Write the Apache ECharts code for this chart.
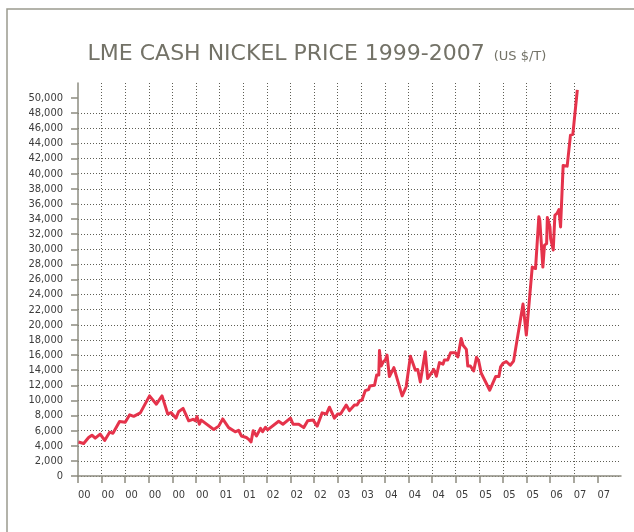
<!DOCTYPE html>
<html>
<head>
    <meta charset="utf-8">
    <title>LME cash nickel price</title>
    <style>
        body { margin: 0; background: #fff; }
        #chart { width: 634px; height: 532px; }
    </style>
</head>
<body>
<div id="chart"></div>
<script src="https://cdn.jsdelivr.net/npm/echarts@6/dist/echarts.min.js"></script>
<script>
    // x = position in label periods (one period per tick)
    var xLabels = ['00', '00', '00', '00', '00', '00', '01', '01', '02', '02', '02', '03',
        '03', '04', '04', '04', '05', '05', '05', '05', '06', '07', '07'];
    var yTicks = [0, 2000, 4000, 6000, 8000, 10000, 12000, 14000, 16000, 18000, 20000, 22000, 24000,
        26000, 28000, 30000, 32000, 34000, 36000, 38000, 40000, 42000, 44000, 46000, 48000, 50000];

    var period = [0.02, 0.24, 0.45, 0.59, 0.73, 0.94, 1.13, 1.34, 1.48, 1.76, 2.00, 2.19, 2.36, 2.64, 2.71,
        3.03, 3.32, 3.56, 3.80, 3.94, 4.15, 4.26, 4.45, 4.69, 4.87, 4.97, 5.04, 5.14, 5.22, 5.75, 5.96,
        6.13, 6.38, 6.66, 6.80, 6.92, 7.13, 7.23, 7.33, 7.42, 7.56, 7.73, 7.82, 7.94, 8.03, 8.50, 8.68,
        9.00, 9.08, 9.11, 9.35, 9.56, 9.73, 9.96, 10.13, 10.34, 10.52, 10.65, 10.86, 11.00, 11.12, 11.36,
        11.50, 11.71, 11.82, 11.93, 12.03, 12.17, 12.31, 12.36, 12.56, 12.65, 12.74, 12.77, 12.84, 12.93,
        13.02, 13.09, 13.19, 13.38, 13.73, 13.90, 14.08, 14.29, 14.39, 14.50, 14.71, 14.81, 15.07, 15.18,
        15.31, 15.46, 15.52, 15.66, 15.78, 15.99, 16.09, 16.23, 16.31, 16.37, 16.45, 16.51, 16.62, 16.76,
        16.88, 16.97, 17.08, 17.44, 17.69, 17.76, 17.83, 17.90, 18.00, 18.14, 18.31, 18.45, 18.85, 18.99,
        19.24, 19.38, 19.52, 19.56, 19.69, 19.76, 19.85, 19.88, 19.99, 20.02, 20.09, 20.13, 20.20, 20.30,
        20.37, 20.44, 20.55, 20.72, 20.86, 20.96, 21.15];
    var price = [4500, 4300, 5100, 5400, 5000, 5550, 4700, 5800, 5650, 7200, 7100, 8100, 7900, 8350, 8150,
        10600, 9500, 10600, 8200, 8400, 7650, 8500, 8950, 7300, 7500, 7300, 7850, 6850, 7400, 6150, 6600,
        7550, 6400, 5850, 6050, 5300, 5100, 4850, 4500, 6000, 5300, 6300, 5850, 6450, 6100, 7250, 6850,
        7650, 7500, 6850, 6850, 6400, 7300, 7400, 6600, 8350, 8200, 9100, 7650, 8200, 8200, 9400,
        8650, 9400, 9400, 9950, 10050, 11300, 11450, 11900, 12000, 13350, 13350, 16600, 14550, 15100,
        15350, 16000, 13150, 14350, 10600, 11800, 15850, 14000, 14100, 12450, 16450, 12900, 14100, 13200,
        15000, 14800, 15350, 15350, 16300, 16300, 15750, 18200, 17300, 17100, 16750, 14550, 14550, 13900,
        15700, 15250, 13600, 11350, 13150, 13350, 13150, 14450, 14900, 15150, 14650, 15200, 22750, 18650,
        27650, 27450, 34300, 33850, 27650, 30550, 30750, 34200, 32950, 31400, 31300, 29900, 34500, 34800,
        35250, 32950, 41100, 41000, 45100, 45200, 51100];

    var chart = echarts.init(document.getElementById('chart'));

    var axisGrey = '#8d8c80';
    var labelFont = 'DejaVu Sans Condensed';

    chart.setOption({
        animation: false,
        title: {
            text: '{a|LME CASH NICKEL PRICE 1999-2007} {b|(US $/T)}',
            left: 'center',
            top: 38,
            textStyle: {
                fontWeight: 'normal',
                rich: {
                    a: { fontFamily: 'DejaVu Sans', fontSize: 22, fontWeight: 'normal', color: '#737267' },
                    b: { fontFamily: 'DejaVu Sans', fontSize: 13, fontWeight: 'normal', color: '#737267', padding: [5, 0, 0, 4] }
                }
            }
        },
        graphic: [{
            type: 'rect',
            silent: true,
            shape: { x: 7, y: 9, width: 700, height: 600 },
            style: { fill: 'none', stroke: '#9b9a8f', lineWidth: 1.5 }
        }],
        grid: {
            left: 78,
            right: 13,
            top: 83,
            bottom: 56
        },
        xAxis: {
            type: 'value',
            min: 0,
            max: 23,
            interval: 1,
            axisLine: { lineStyle: { color: axisGrey, width: 1.5 } },
            axisTick: {
                length: 7,
                customValues: xLabels.map(function (l, i) { return i; }),
                lineStyle: { color: axisGrey, width: 1.5 }
            },
            axisLabel: {
                customValues: xLabels.map(function (l, i) { return i; }),
                formatter: function (v) { return xLabels[v]; },
                align: 'left',
                margin: 14,
                fontFamily: labelFont,
                fontSize: 11,
                color: '#3c3c3c'
            },
            splitLine: {
                show: true,
                showMinLine: false,
                showMaxLine: false,
                lineStyle: { color: '#5e5e55', type: [1, 2], width: 1 }
            }
        },
        yAxis: {
            type: 'value',
            min: 0,
            max: 52000,
            interval: 2000,
            axisLine: { show: true, lineStyle: { color: axisGrey, width: 1.5 } },
            axisTick: {
                show: true,
                length: 7,
                customValues: yTicks,
                lineStyle: { color: axisGrey, width: 1.5 }
            },
            axisLabel: {
                customValues: yTicks,
                formatter: function (v) { return v.toLocaleString('en-US'); },
                margin: 15,
                padding: [0, 0, 8, 0],
                fontFamily: labelFont,
                fontSize: 11,
                color: '#3c3c3c'
            },
            splitLine: {
                show: true,
                showMaxLine: false,
                lineStyle: { color: '#5e5e55', type: [1, 2], width: 1 }
            }
        },
        series: [{
            type: 'line',
            showSymbol: false,
            data: period.map(function (x, i) { return [x, price[i]]; }),
            lineStyle: { color: '#e5334b', width: 3, join: 'round' },
            itemStyle: { color: '#e5334b' }
        }]
    });
</script>
</body>
</html>
